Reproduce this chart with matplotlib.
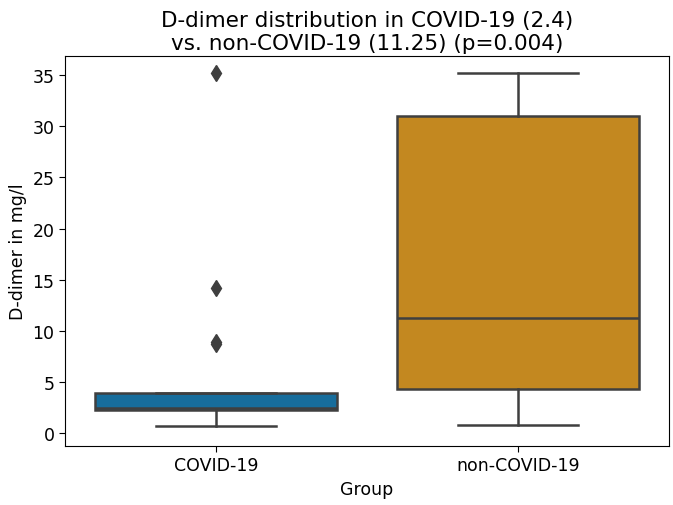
import matplotlib
matplotlib.use('Agg')
import matplotlib.pyplot as plt

# Box statistics
groups = ['COVID-19', 'non-COVID-19']
medians = [2.4, 11.25]
q1 = [2.2, 4.3]
q3 = [3.9, 31.0]
whis_low = [0.65, 0.75]
whis_high = [3.9, 35.2]
outliers = [[8.7, 8.9, 14.2, 35.2], []]
colors = ['#176d9c', '#c38820']

stats = []
for i, g in enumerate(groups):
    stats.append({'label': g, 'med': medians[i], 'q1': q1[i], 'q3': q3[i],
                  'whislo': whis_low[i], 'whishi': whis_high[i],
                  'fliers': outliers[i]})

fig = plt.figure(figsize=(6.73, 5.06), dpi=100)
ax = fig.add_axes([65/673, 59/506, 604/673, 390/506])

line = '#3f3f3f'
bp = ax.bxp(stats, positions=[0, 1], widths=0.8, patch_artist=True,
            boxprops=dict(edgecolor=line, linewidth=1.8),
            medianprops=dict(color=line, linewidth=1.8),
            whiskerprops=dict(color=line, linewidth=1.8),
            capprops=dict(color=line, linewidth=1.8),
            flierprops=dict(marker='d', markerfacecolor=line, markeredgecolor=line,
                            markersize=8))
for patch, c in zip(bp['boxes'], colors):
    patch.set_facecolor(c)

ax.set_xlim(-0.5, 1.5)
ax.set_ylim(-1.3, 36.9)
ax.set_yticks(range(0, 36, 5))
ax.tick_params(labelsize=12.5, length=4)
ax.set_xlabel('Group', fontsize=12.5)
ax.set_ylabel('D-dimer in mg/l', fontsize=12.5)
ax.set_title('D-dimer distribution in COVID-19 (2.4)\nvs. non-COVID-19 (11.25) (p=0.004)',
             fontsize=15.5, pad=5)

fig.savefig('out.png', dpi=100)
